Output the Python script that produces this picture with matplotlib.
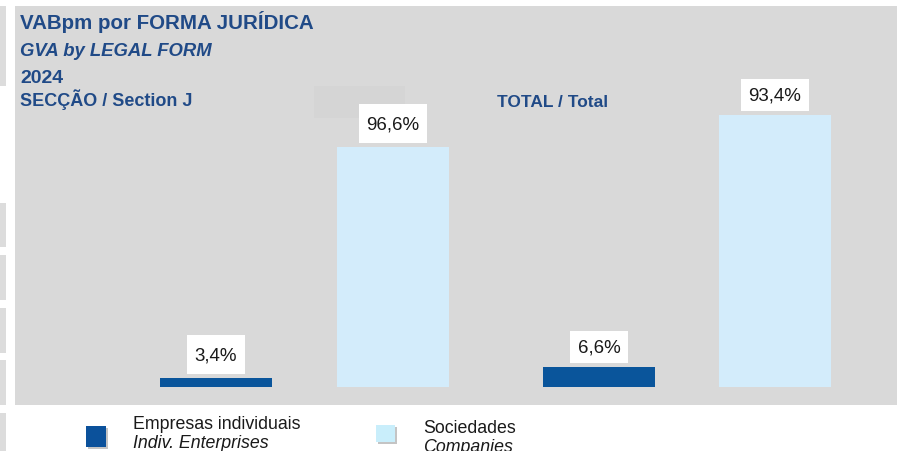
import matplotlib
matplotlib.use('Agg')
import matplotlib.pyplot as plt
from matplotlib.patches import Rectangle
from matplotlib.path import Path

plt.rcParams['font.family'] = ['Liberation Sans', 'DejaVu Sans']

# dados
series_pt = ['Empresas individuais', 'Sociedades']
series_en = ['Indiv. Enterprises', 'Companies']
seccao_j = [3.4, 96.6]
total = [6.6, 93.4]
titulo = 'VABpm por FORMA JURÍDICA'
subtitulo = 'GVA by LEGAL FORM'
ano = '2024'
grupos = ['SECÇÃO / Section J', 'TOTAL / Total']

azul_esc = '#0A559B'
azul_cla = '#D3ECFB'
cor_txt = '#204A87'
fundo = '#D9D9D9'

W, H = 897, 452
fig = plt.figure(figsize=(W / 100, H / 100), dpi=100)
fig.patch.set_facecolor('white')

def fx(px):
    return px / W

def fy(py):
    return 1 - py / H

# caixa branca com margens diferentes em x e y
def caixa(padx, pady):
    def f(x0, y0, width, height, mutation_size):
        px, py = padx * mutation_size, pady * mutation_size
        return Path([(x0 - px, y0 - py), (x0 + width + px, y0 - py),
                     (x0 + width + px, y0 + height + py), (x0 - px, y0 + height + py),
                     (x0 - px, y0 - py)], closed=True)
    return f

# painel cinzento
fig.patches.append(Rectangle((fx(15), fy(406)), fx(882), 399 / H, transform=fig.transFigure,
                             facecolor=fundo, edgecolor='none', zorder=-2))
# restos na margem esquerda
for y0, y1 in [(7, 87), (204, 248), (256, 301), (309, 354), (361, 406), (414, 452)]:
    fig.patches.append(Rectangle((0, fy(y1)), fx(6), (y1 - y0) / H, transform=fig.transFigure,
                                 facecolor='#DCDCDC', edgecolor='none', zorder=-2))
# caixa fantasma
fig.patches.append(Rectangle((fx(314), fy(119)), fx(91), 32 / H, transform=fig.transFigure,
                             facecolor='#D5D5D5', edgecolor='none', zorder=-1))

cores = [azul_esc, azul_cla]

def grafico(rect, valores, xlim, ymax, off, pady):
    ax = fig.add_axes(rect, zorder=2)
    ax.set_facecolor('none')
    x = [0, 1]
    ax.bar(x, valores, width=0.633, color=cores, zorder=2)
    for xi, v in zip(x, valores):
        ax.annotate(f'{v:.1f}%'.replace('.', ','), xy=(xi, v), xytext=(0, off),
                    textcoords='offset pixels', ha='center', va='center',
                    fontsize=13.5, color='#1A1A1A', zorder=3,
                    bbox=dict(boxstyle=caixa(0.4, pady), facecolor='white', edgecolor='none'))
    ax.set_xlim(*xlim)
    ax.set_ylim(0, ymax)
    ax.axis('off')
    return ax

grafico([fx(15), fy(387.5), fx(475), 380.5 / H], seccao_j, (-1.136, 1.548), 153.5, 23.5, 0.6)
grafico([fx(490), fy(387.5), fx(407), 380.5 / H], total, (-0.619, 1.693), 130.9, 20, 0.4)

# titulos
fig.text(fx(20), fy(29), titulo, fontsize=14.8, fontweight='bold', color=cor_txt)
fig.text(fx(20), fy(56), subtitulo, fontsize=13.3, fontweight='bold', style='italic', color=cor_txt)
fig.text(fx(20), fy(83), ano, fontsize=14, fontweight='bold', color=cor_txt)
fig.text(fx(20), fy(106), grupos[0], fontsize=13, fontweight='bold', color=cor_txt)
fig.text(fx(497), fy(107), grupos[1], fontsize=12.5, fontweight='bold', color=cor_txt)

# legenda
for (x0, y0, w, h), c, pt, en, tx, by in [((86, 427, 20, 21), '#0B519B', series_pt[0], series_en[0], 133, 429),
                                          ((376, 426, 19, 17), '#C9EEFB', series_pt[1], series_en[1], 423, 433)]:
    fig.patches.append(Rectangle((fx(x0 + 1.5), fy(y0 + h + 1.5)), fx(w), h / H, transform=fig.transFigure,
                                 facecolor='#C4C4C4', edgecolor='none', zorder=1))
    fig.patches.append(Rectangle((fx(x0), fy(y0 + h)), fx(w), h / H, transform=fig.transFigure,
                                 facecolor=c, edgecolor='none', zorder=2))
    fig.text(fx(tx), fy(by), pt, fontsize=12.8, color='#1A1A1A')
    fig.text(fx(tx), fy(by + 19), en, fontsize=12.8, style='italic', color='#1A1A1A')

fig.savefig('out.png', dpi=100)
